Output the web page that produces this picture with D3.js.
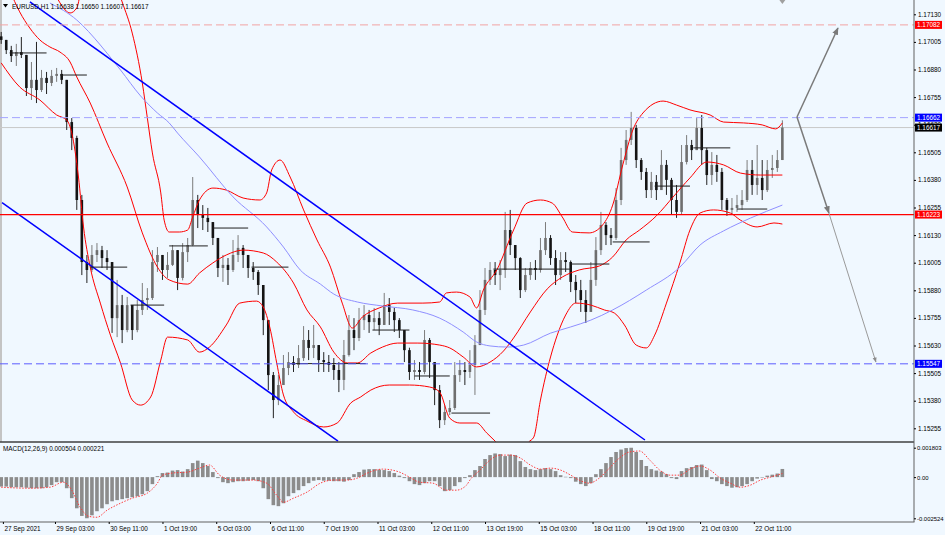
<!DOCTYPE html>
<html><head><meta charset="utf-8">
<script src="https://cdn.jsdelivr.net/npm/d3@7"></script>
<style>
html,body{margin:0;padding:0;background:#f0f8ff;}
svg{display:block;}
text{font-family:"Liberation Sans",Arial,sans-serif;}
</style></head><body>
<svg id="c" width="945" height="535"></svg>
<script>
// ---------------- DATA ----------------
const symbolTitle = "EURUSD,H1";
const headerValues = ["1.16638","1.16650","1.16607","1.16617"];
const macdTitle = "MACD(12,26,9) 0.000504 0.000221";
const barsPerCandle = 3; // each drawn candle = 3 hourly bars
const firstOpen = 1.17030;
const closes = [1.17014,1.16968,1.16941,1.16959,1.16946,1.16796,1.16833,1.16787,1.16842,1.16819,
1.16851,1.16860,1.16833,1.16642,1.16570,1.16289,1.16008,1.15972,1.16040,1.16062,
1.16026,1.16008,1.15754,1.15813,1.15700,1.15813,1.15700,1.15791,1.15836,1.15845,
1.16008,1.16040,1.15972,1.15995,1.16062,1.15936,1.16053,1.16085,1.16289,1.16221,
1.16208,1.16189,1.16117,1.15981,1.15995,1.15972,1.16040,1.16072,1.16040,1.15981,
1.15963,1.15904,1.15745,1.15496,1.15383,1.15451,1.15528,1.15555,1.15542,1.15573,
1.15655,1.15619,1.15632,1.15564,1.15555,1.15542,1.15519,1.15474,1.15587,1.15700,
1.15664,1.15745,1.15768,1.15736,1.15754,1.15723,1.15813,1.15782,1.15745,1.15700,
1.15609,1.15510,1.15519,1.15510,1.15655,1.15555,1.15428,1.15292,1.15329,1.15347,
1.15496,1.15519,1.15510,1.15542,1.15632,1.15791,1.15927,1.15972,1.15949,1.15972,
1.16153,1.16085,1.16026,1.15881,1.15949,1.15981,1.15972,1.16062,1.16117,1.16026,
1.15949,1.16017,1.16008,1.15918,1.15881,1.15836,1.15782,1.15927,1.16062,1.16176,
1.16130,1.16117,1.16289,1.16470,1.16561,1.16615,1.16470,1.16416,1.16334,1.16371,
1.16334,1.16448,1.16380,1.16289,1.16235,1.16461,1.16538,1.16515,1.16615,1.16515,
1.16402,1.16448,1.16416,1.16289,1.16244,1.16253,1.16266,1.16289,1.16425,1.16357,
1.16389,1.16334,1.16425,1.16434,1.16470,1.16617];
const highs = [1.17050,1.17014,1.16987,1.16996,1.17027,1.16946,1.16914,1.17005,1.16878,1.16869,
1.16878,1.16887,1.16878,1.16833,1.16660,1.16580,1.16312,1.16040,1.16085,1.16094,
1.16081,1.16062,1.16008,1.15927,1.15859,1.15850,1.15813,1.15836,1.15913,1.15890,
1.16062,1.16076,1.16040,1.16053,1.16085,1.16062,1.16094,1.16117,1.16393,1.16312,
1.16266,1.16253,1.16189,1.16117,1.16040,1.16026,1.16108,1.16130,1.16085,1.16040,
1.16008,1.15972,1.15904,1.15745,1.15510,1.15496,1.15587,1.15600,1.15582,1.15632,
1.15718,1.15700,1.15723,1.15632,1.15600,1.15587,1.15573,1.15555,1.15655,1.15768,
1.15754,1.15800,1.15813,1.15791,1.15800,1.15782,1.15868,1.15845,1.15800,1.15754,
1.15700,1.15620,1.15564,1.15555,1.15700,1.15664,1.15555,1.15451,1.15360,1.15383,
1.15555,1.15564,1.15555,1.15609,1.15677,1.15881,1.15981,1.16008,1.16008,1.16017,
1.16235,1.16244,1.16085,1.16030,1.15981,1.16008,1.16017,1.16117,1.16189,1.16130,
1.16062,1.16053,1.16053,1.16015,1.15949,1.15927,1.15881,1.16008,1.16121,1.16235,
1.16189,1.16162,1.16343,1.16525,1.16606,1.16688,1.16629,1.16479,1.16434,1.16416,
1.16402,1.16515,1.16470,1.16389,1.16357,1.16538,1.16583,1.16561,1.16660,1.16674,
1.16525,1.16506,1.16493,1.16434,1.16298,1.16298,1.16312,1.16334,1.16470,1.16470,
1.16538,1.16470,1.16470,1.16493,1.16515,1.16650];
const lows = [1.16996,1.16950,1.16914,1.16896,1.16932,1.16760,1.16742,1.16728,1.16778,1.16769,
1.16805,1.16824,1.16814,1.16606,1.16515,1.16244,1.15949,1.15913,1.15963,1.16008,
1.15981,1.15972,1.15687,1.15668,1.15641,1.15690,1.15655,1.15690,1.15768,1.15791,
1.15836,1.15963,1.15927,1.15936,1.15990,1.15881,1.15925,1.16008,1.16080,1.16162,
1.16153,1.16144,1.16085,1.15940,1.15918,1.15904,1.15963,1.16008,1.15981,1.15936,
1.15927,1.15859,1.15677,1.15428,1.15301,1.15360,1.15451,1.15496,1.15510,1.15528,
1.15560,1.15564,1.15573,1.15510,1.15510,1.15510,1.15474,1.15419,1.15428,1.15580,
1.15609,1.15650,1.15700,1.15687,1.15700,1.15677,1.15723,1.15723,1.15691,1.15664,
1.15555,1.15474,1.15474,1.15474,1.15500,1.15483,1.15360,1.15256,1.15270,1.15315,
1.15338,1.15465,1.15451,1.15483,1.15406,1.15632,1.15768,1.15904,1.15904,1.15881,
1.15936,1.16040,1.15972,1.15845,1.15872,1.15927,1.15927,1.15960,1.16040,1.15995,
1.15904,1.15927,1.15963,1.15872,1.15822,1.15782,1.15732,1.15813,1.15900,1.16040,
1.16085,1.16085,1.16108,1.16266,1.16448,1.16538,1.16434,1.16380,1.16298,1.16298,
1.16289,1.16380,1.16312,1.16221,1.16208,1.16221,1.16450,1.16470,1.16515,1.16448,
1.16357,1.16357,1.16371,1.16244,1.16217,1.16221,1.16235,1.16244,1.16280,1.16312,
1.16312,1.16289,1.16325,1.16389,1.16416,1.16470];

// Bollinger bands and moving average: [bar index, price]
const bbUpper = [[0,1.17331],[17,1.17308],[32,1.17218],[38,1.17150],[41,1.17136],[45,1.17159],[48,1.17263],[56,1.17467],[65,1.17331],[72,1.17186],[78,1.17045],[84,1.16819],[87,1.16660],[90,1.16502],[95,1.16321],[97,1.16198],[100,1.16144],[106,1.16144],[111,1.16153],[114,1.16212],[118,1.16289],[126,1.16343],[134,1.16334],[144,1.16298],[154,1.16289],[158,1.16321],[161,1.16425],[166,1.16470],[172,1.16393],[180,1.16244],[188,1.16108],[196,1.15985],[203,1.15822],[209,1.15709],[215,1.15759],[225,1.15800],[236,1.15822],[251,1.15822],[261,1.15827],[265,1.15868],[271,1.15872],[279,1.15850],[283,1.15800],[287,1.15881],[295,1.15972],[305,1.16153],[313,1.16275],[321,1.16289],[328,1.16275],[334,1.16212],[340,1.16144],[350,1.16140],[358,1.16176],[364,1.16266],[370,1.16448],[376,1.16606],[382,1.16683],[394,1.16737],[402,1.16719],[410,1.16697],[422,1.16674],[430,1.16642],[442,1.16638],[453,1.16629],[461,1.16611],[465,1.16638]];
const bbMiddle = [[5,1.17240],[11,1.17141],[17,1.17068],[23,1.17014],[29,1.16982],[35,1.16959],[41,1.16914],[45,1.16846],[53,1.16728],[63,1.16547],[75,1.16348],[84,1.16140],[93,1.15985],[100,1.15927],[111,1.15908],[118,1.15958],[126,1.16004],[134,1.16040],[144,1.16062],[156,1.16049],[164,1.16008],[174,1.15913],[182,1.15791],[190,1.15714],[198,1.15600],[206,1.15551],[212,1.15551],[220,1.15596],[227,1.15623],[236,1.15641],[248,1.15641],[261,1.15632],[267,1.15619],[275,1.15578],[283,1.15533],[291,1.15555],[299,1.15605],[305,1.15664],[315,1.15782],[325,1.15886],[334,1.15940],[344,1.15972],[356,1.15990],[364,1.16031],[372,1.16108],[380,1.16153],[390,1.16217],[400,1.16303],[410,1.16389],[420,1.16461],[430,1.16448],[440,1.16411],[452,1.16402],[465,1.16402]];
const bbLower = [[0,1.16910],[11,1.16801],[23,1.16742],[33,1.16674],[39,1.16651],[42,1.16593],[46,1.16393],[49,1.16167],[53,1.15985],[59,1.15822],[65,1.15677],[71,1.15551],[78,1.15383],[83,1.15360],[89,1.15397],[95,1.15564],[99,1.15668],[111,1.15655],[118,1.15600],[124,1.15623],[134,1.15723],[142,1.15822],[152,1.15831],[156,1.15804],[160,1.15709],[164,1.15551],[168,1.15406],[174,1.15329],[182,1.15288],[192,1.15261],[200,1.15279],[208,1.15369],[214,1.15397],[220,1.15428],[231,1.15451],[243,1.15451],[255,1.15442],[261,1.15419],[267,1.15301],[273,1.15279],[283,1.15279],[289,1.15234],[294,1.15197],[303,1.15134],[309,1.15134],[314,1.15193],[317,1.15215],[321,1.15383],[327,1.15578],[331,1.15677],[336,1.15768],[342,1.15822],[351,1.15813],[359,1.15791],[365,1.15777],[371,1.15723],[378,1.15632],[384,1.15619],[389,1.15677],[396,1.15822],[404,1.16004],[410,1.16153],[416,1.16230],[424,1.16244],[434,1.16230],[440,1.16198],[450,1.16167],[460,1.16185],[465,1.16180]];
const maSlow = [[29,1.17181],[45,1.17104],[59,1.16991],[63,1.16954],[71,1.16878],[83,1.16760],[93,1.16683],[100,1.16638],[105,1.16592],[118,1.16484],[138,1.16303],[158,1.16167],[168,1.16076],[178,1.15972],[190,1.15908],[198,1.15863],[212,1.15827],[227,1.15809],[245,1.15791],[261,1.15754],[275,1.15691],[283,1.15646],[291,1.15628],[301,1.15623],[311,1.15632],[327,1.15686],[339,1.15714],[351,1.15745],[364,1.15791],[384,1.15881],[404,1.15985],[416,1.16085],[430,1.16149],[446,1.16207],[465,1.16266]];

// channel trend lines and forecast arrows: [bar index, price]
const trendUpper = [[17.1,1.17186],[383.2,1.15202]];
const trendLower = [[0.5,1.16277],[200.5,1.15197]];
const arrowUp = [[473.7,1.16665],[498.1,1.17068]];
const arrowDown1 = [[473.7,1.16665],[492.7,1.16230]];
const arrowDown2 = [[492.7,1.16230],[520.7,1.15555]];

// black open-level segments: [start bar, end bar, price]
const openSegments = [[5,27,1.16955],[35,51,1.16855],[53,75,1.15985],[77,97,1.15813],[100,123,1.16081],[126,147,1.16162],[149,171,1.15985],[172,217,1.15548],[221,243,1.15700],[246,267,1.15492],[268,291,1.15324],[293,339,1.15976],[339,362,1.15999],[364,386,1.16099],[389,410,1.16352],[412,434,1.16525],[438,456,1.16248]];

// horizontal levels
const levelValues = [1.17082, 1.16662, 1.16617, 1.16223, 1.15547];

// MACD histogram (one per candle) and signal [bar index, value]
const macdHist = [-0.00058,-0.00058,-0.00062,-0.00062,-0.00062,-0.00065,-0.00068,-0.00068,-0.00068,-0.00062,
-0.00049,-0.00031,-0.00031,-0.00068,-0.00129,-0.00191,-0.00238,-0.00252,-0.00234,-0.00209,
-0.00191,-0.00166,-0.00148,-0.00141,-0.00135,-0.00129,-0.00123,-0.00117,-0.00105,-0.00086,
-0.00043,0.00006,0.00025,0.00028,0.00040,0.00043,0.00034,0.00049,0.00086,0.00101,
0.00086,0.00068,0.00031,-0.00006,-0.00031,-0.00037,-0.00031,-0.00025,-0.00025,-0.00022,
-0.00018,-0.00025,-0.00068,-0.00135,-0.00172,-0.00178,-0.00160,-0.00117,-0.00098,-0.00080,
-0.00055,-0.00037,-0.00022,-0.00018,-0.00022,-0.00022,-0.00025,-0.00025,-0.00028,-0.00018,
0.00018,0.00031,0.00046,0.00049,0.00049,0.00046,0.00043,0.00037,0.00025,0.00009,
-0.00006,-0.00025,-0.00043,-0.00049,-0.00037,-0.00025,-0.00025,-0.00055,-0.00086,-0.00080,
-0.00055,-0.00031,-0.00006,0.00012,0.00043,0.00068,0.00111,0.00135,0.00145,0.00141,
0.00129,0.00138,0.00135,0.00098,0.00062,0.00049,0.00043,0.00049,0.00055,0.00049,
0.00037,0.00012,0.00002,-0.00006,-0.00028,-0.00043,-0.00055,-0.00037,0.00018,0.00049,
0.00086,0.00123,0.00154,0.00169,0.00178,0.00180,0.00154,0.00105,0.00068,0.00049,
0.00040,0.00034,0.00018,-0.00006,-0.00012,0.00037,0.00055,0.00062,0.00074,0.00077,
0.00043,-0.00012,-0.00025,-0.00043,-0.00055,-0.00065,-0.00062,-0.00055,-0.00043,-0.00025,
-0.00009,0.00000,0.00009,0.00015,0.00022,0.00050];
const macdSignal = [[0,-0.00062],[17,-0.00068],[29,-0.00062],[37,-0.00031],[42,-0.00080],[47,-0.00185],[52,-0.00240],[57,-0.00246],[63,-0.00203],[71,-0.00160],[78,-0.00129],[87,-0.00098],[93,-0.00037],[96,0.00012],[102,0.00025],[111,0.00031],[118,0.00055],[124,0.00074],[130,0.00012],[138,-0.00018],[150,-0.00018],[158,-0.00037],[164,-0.00111],[168,-0.00154],[174,-0.00129],[182,-0.00092],[190,-0.00037],[198,-0.00018],[206,-0.00018],[212,-0.00006],[218,0.00025],[227,0.00049],[237,0.00031],[243,0.00000],[249,-0.00031],[257,-0.00037],[265,-0.00080],[271,-0.00080],[277,-0.00049],[279,-0.00018],[285,0.00043],[291,0.00105],[297,0.00135],[303,0.00135],[309,0.00117],[315,0.00074],[321,0.00049],[327,0.00055],[333,0.00043],[339,0.00012],[344,-0.00018],[350,-0.00037],[356,-0.00006],[362,0.00055],[368,0.00117],[374,0.00154],[380,0.00160],[386,0.00105],[392,0.00043],[398,0.00012],[404,0.00012],[410,0.00049],[416,0.00068],[422,0.00043],[428,-0.00006],[434,-0.00037],[440,-0.00062],[446,-0.00049],[452,-0.00018],[458,0.00000],[465,0.00022]];

// axes
const priceTicks = [1.17130,1.17005,1.16880,1.16755,1.16630,1.16505,1.16380,1.16255,1.16130,1.16005,1.15880,1.15755,1.15630,1.15505,1.15380,1.15255];
const macdTicks = [0.001803, 0, -0.002524];
const timeIdx = [1,32,64,96,128,160,192,224,256,288,320,352,384,416,448];
const timeLabels = ["27 Sep 2021","29 Sep 03:00","30 Sep 11:00","1 Oct 19:00","5 Oct 03:00","6 Oct 11:00","7 Oct 19:00","11 Oct 03:00","12 Oct 11:00","13 Oct 19:00","15 Oct 03:00","18 Oct 11:00","19 Oct 19:00","21 Oct 03:00","22 Oct 11:00"];

// ---------------- LAYOUT ----------------
const plotRight = 914, mainBottom = 442, macdTop = 443, macdBottom = 522;
const FS = 6.4;
const svg = d3.select("#c");
const x = d3.scaleLinear().domain([0, 543]).range([1.2, 913.4]);
const y = d3.scaleLinear().domain([1.15255, 1.17130]).range([428.3, 14.3]);
const ym = d3.scaleLinear().domain([-0.002524, 0.001803]).range([518.3, 447.7]);

svg.append("rect").attr("width",945).attr("height",535).attr("fill","#f0f8ff");
const defs = svg.append("defs");
defs.append("clipPath").attr("id","clipMain").append("rect").attr("x",0).attr("y",0).attr("width",plotRight).attr("height",mainBottom);
defs.append("clipPath").attr("id","clipMacd").append("rect").attr("x",0).attr("y",macdTop).attr("width",plotRight).attr("height",macdBottom-macdTop);
[["arrDark","#7a7a7a"],["arrLight","#8c8c8c"]].forEach(([id,c])=>{
  defs.append("marker").attr("id",id).attr("viewBox","0 0 10 10").attr("refX",9).attr("refY",5)
    .attr("markerWidth",5).attr("markerHeight",5).attr("orient","auto")
    .append("path").attr("d","M0,1 L10,5 L0,9 Z").attr("fill",c);
});

// left strip
svg.append("rect").attr("x",0).attr("y",0).attr("width",2).attr("height",mainBottom).attr("fill","#c4c4c4");

const main = svg.append("g").attr("clip-path","url(#clipMain)");
// bid line
main.append("line").attr("x1",0).attr("x2",plotRight).attr("y1",y(levelValues[2])).attr("y2",y(levelValues[2]))
  .attr("stroke","#c8c8c8").attr("stroke-width",1);

// candles
const candles = closes.map((c,j)=>({i:j*barsPerCandle, o: j===0?firstOpen:closes[j-1], c, h:highs[j], l:lows[j]}));
const upCol = "#6f6f6f", dnCol = "#141414";
const cg = main.append("g");
cg.selectAll("line.w").data(candles).join("line").attr("class","w")
  .attr("x1",d=>x(d.i)).attr("x2",d=>x(d.i)).attr("y1",d=>y(d.h)).attr("y2",d=>y(d.l))
  .attr("stroke",d=>d.c>=d.o?"#7c7c7c":"#222").attr("stroke-width",1);
cg.selectAll("rect.b").data(candles).join("rect").attr("class","b")
  .attr("x",d=>x(d.i)-1.3).attr("width",2.6)
  .attr("y",d=>Math.min(y(d.o),y(d.c))).attr("height",d=>Math.max(1,Math.abs(y(d.o)-y(d.c))))
  .attr("fill",d=>d.c>=d.o?upCol:dnCol);

// bands
const ln = d3.line().x(d=>x(d[0])).y(d=>y(d[1])).curve(d3.curveMonotoneX);
[bbUpper,bbMiddle,bbLower].forEach(s=>main.append("path").attr("d",ln(s)).attr("fill","none").attr("stroke","#ff0000").attr("stroke-width",1));
main.append("path").attr("d",ln(maSlow)).attr("fill","none").attr("stroke","#8f8fff").attr("stroke-width",1);

// trend channel
const sl = d3.line().x(d=>x(d[0])).y(d=>y(d[1]));
[trendUpper,trendLower].forEach(s=>main.append("path").attr("d",sl(s)).attr("stroke","#0000ff").attr("stroke-width",1.5).attr("fill","none"));

// levels
const levelStyle = [
  {stroke:"#f2a3a3",dash:"8,4",w:1},
  {stroke:"#a3a3ff",dash:"8,4",w:1},
  null,
  {stroke:"#ff0000",dash:null,w:1.2},
  {stroke:"#5c5cff",dash:"8,4",w:1}
];
levelValues.forEach((v,k)=>{
  const st = levelStyle[k]; if(!st) return;
  const l = svg.append("line").attr("x1",0).attr("x2",plotRight).attr("y1",y(v)).attr("y2",y(v))
    .attr("stroke",st.stroke).attr("stroke-width",st.w);
  if(st.dash) l.attr("stroke-dasharray",st.dash);
});

// open segments
main.selectAll("line.seg").data(openSegments).join("line").attr("class","seg")
  .attr("x1",d=>x(d[0])).attr("x2",d=>x(d[1])).attr("y1",d=>y(d[2])).attr("y2",d=>y(d[2]))
  .attr("stroke","#202020").attr("stroke-width",1);

// arrows
const ag = svg.append("g").attr("clip-path","url(#clipMain)");
ag.append("path").attr("d",sl(arrowUp)).attr("stroke","#7a7a7a").attr("stroke-width",1.5).attr("fill","none").attr("marker-end","url(#arrDark)");
ag.append("path").attr("d",sl(arrowDown1)).attr("stroke","#7a7a7a").attr("stroke-width",1.5).attr("fill","none").attr("marker-end","url(#arrDark)");
ag.append("path").attr("d",sl(arrowDown2)).attr("stroke","#9a9a9a").attr("stroke-width",1).attr("fill","none").attr("marker-end","url(#arrLight)");
// shift marker
svg.append("path").attr("d",`M${x(465)-3},0 L${x(465)+3},0 L${x(465)},4 Z`).attr("fill","#a0a0a0");

// MACD
const mg = svg.append("g").attr("clip-path","url(#clipMacd)");
mg.selectAll("rect").data(macdHist).join("rect")
  .attr("x",(d,j)=>x(j*barsPerCandle)-1.8).attr("width",3.6)
  .attr("y",d=>Math.min(ym(0),ym(d))).attr("height",d=>Math.max(0.5,Math.abs(ym(d)-ym(0))))
  .attr("fill","#8c8c8c");
const lm = d3.line().x(d=>x(d[0])).y(d=>ym(d[1])).curve(d3.curveMonotoneX);
mg.append("path").attr("d",lm(macdSignal)).attr("fill","none").attr("stroke","#ff3b3b").attr("stroke-width",1).attr("stroke-dasharray","1.5,1.5");

// frame lines
svg.append("line").attr("x1",0).attr("x2",plotRight).attr("y1",mainBottom).attr("y2",mainBottom).attr("stroke","#404040").attr("stroke-width",1.5);
svg.append("line").attr("x1",0).attr("x2",plotRight+0.5).attr("y1",macdBottom).attr("y2",macdBottom).attr("stroke","#606060").attr("stroke-width",1);
svg.append("line").attr("x1",plotRight).attr("x2",plotRight).attr("y1",0).attr("y2",macdBottom).attr("stroke","#606060").attr("stroke-width",1);

// axes
function styleAxis(g, fs){
  g.select(".domain").remove();
  g.selectAll(".tick line").attr("stroke","#000");
  g.selectAll(".tick text").attr("font-size",fs).attr("fill","#000").attr("font-family","'Liberation Sans',Arial,sans-serif");
}
svg.append("g").attr("transform",`translate(${plotRight},0)`)
  .call(d3.axisRight(y).tickValues(priceTicks).tickSize(2).tickPadding(2).tickFormat(d3.format(".5f")))
  .call(g=>styleAxis(g,FS));
svg.append("g").attr("transform",`translate(${plotRight},0)`)
  .call(d3.axisRight(ym).tickValues(macdTicks).tickSize(2).tickPadding(1).tickFormat(d=>d===0?"0.00":d.toFixed(6)))
  .call(g=>styleAxis(g,5.9));
const tAxis = svg.append("g").attr("transform",`translate(0,${macdBottom})`)
  .call(d3.axisBottom(x).tickValues(timeIdx).tickSize(2).tickPadding(2).tickFormat((d,k)=>timeLabels[k]))
  .call(g=>styleAxis(g,FS));
tAxis.selectAll(".tick text").attr("text-anchor","start").attr("x",1);

// level boxes
const boxColors = ["#ff0000","#0000ff","#000000","#ff0000","#0000ff"];
const bx = svg.append("g");
levelValues.forEach((v,k)=>{
  const yy = y(v);
  bx.append("rect").attr("x",plotRight+1).attr("y",yy-4).attr("width",27).attr("height",8).attr("fill",boxColors[k]);
  bx.append("text").attr("x",plotRight+3).attr("y",yy).attr("dy","0.35em").attr("font-size",FS).attr("fill","#fff").text(d3.format(".5f")(v));
});

// header texts
svg.append("path").attr("d","M3,4 L8,4 L5.5,7.5 Z").attr("fill","#000");
svg.append("text").attr("x",12).attr("y",8.5).attr("font-size",FS).attr("fill","#000")
  .text(symbolTitle + "  " + headerValues.join(" "));
svg.append("text").attr("x",3).attr("y",451).attr("font-size",FS).attr("fill","#000").text(macdTitle);
</script></body></html>
